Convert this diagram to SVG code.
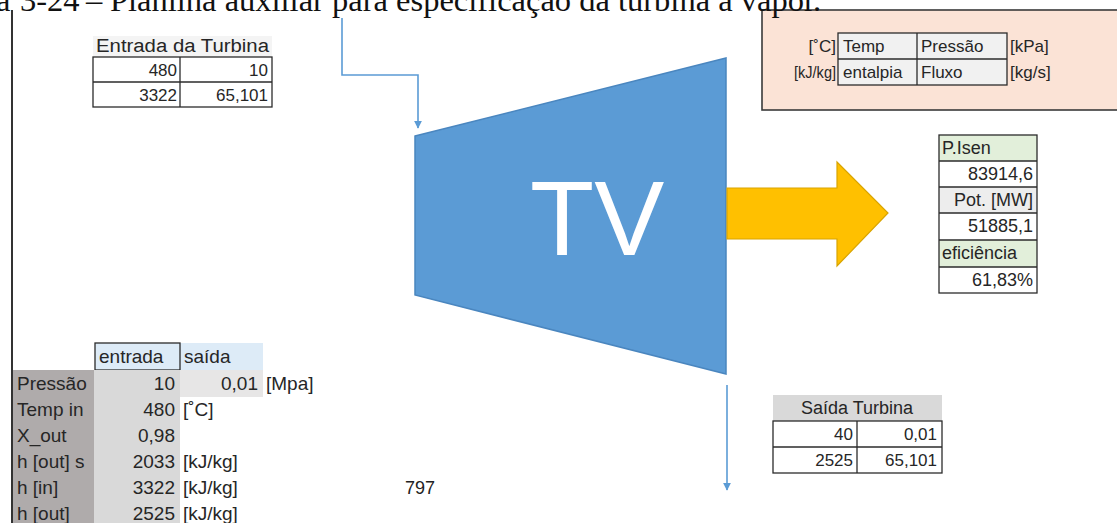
<svg xmlns="http://www.w3.org/2000/svg" width="1117" height="523" viewBox="0 0 1117 523">
<style>
.t{font-family:"Liberation Sans",Arial,sans-serif;font-size:17px;fill:#262626}
.b{font-size:19px}
.m{font-size:18px}
.r{text-anchor:end}
.c{text-anchor:middle}
.cell{stroke:#2b2b2b;stroke-width:1.3}
.flow{stroke:#5B9BD5;stroke-width:1.6;fill:none}
</style>
<defs>
<marker id="ah" viewBox="0 0 10 10" refX="9" refY="5" markerWidth="8" markerHeight="8" markerUnits="userSpaceOnUse" orient="auto">
<path d="M0,0 L10,5 L0,10 z" fill="#5B9BD5"/>
</marker>
</defs>
<rect width="1117" height="523" fill="#ffffff"/>
<line x1="12" y1="10" x2="12" y2="523" stroke="#333" stroke-width="2"/>

<g id="legend">
<rect x="762" y="10" width="360" height="100" fill="#FBE3D6" stroke="#3a3a3a" stroke-width="1.6"/>
<rect x="838" y="33" width="169" height="52" fill="#F1F1F1" class="cell"/>
<line x1="838" y1="59" x2="1007" y2="59" class="cell"/>
<line x1="917" y1="33" x2="917" y2="85" class="cell"/>
<text class="t r" x="836" y="52">[˚C]</text>
<text class="t" x="843" y="52">Temp</text>
<text class="t" x="921" y="52">Pressão</text>
<text class="t" x="1010" y="52">[kPa]</text>
<text class="t r" x="836" y="78" textLength="42" lengthAdjust="spacingAndGlyphs">[kJ/kg]</text>
<text class="t" x="843" y="78">entalpia</text>
<text class="t" x="921" y="78">Fluxo</text>
<text class="t" x="1010" y="78">[kg/s]</text>
</g>

<text y="11" font-family="'Liberation Serif','Times New Roman',serif" font-size="32.5" fill="#111"><tspan x="-4">a</tspan><tspan x="20">3-24</tspan><tspan x="86">–</tspan><tspan x="110">Planilha auxiliar para especificação da turbina a vapor.</tspan></text>

<g id="entrada-turbina">
<rect x="93" y="36" width="179" height="21" fill="#F4F4F4"/>
<text class="t m" x="96" y="52" textLength="173" lengthAdjust="spacingAndGlyphs">Entrada da Turbina</text>
<rect x="93" y="57" width="179" height="50" fill="#ffffff" class="cell"/>
<line x1="93" y1="82" x2="272" y2="82" class="cell"/>
<line x1="180" y1="57" x2="180" y2="107" class="cell"/>
<text class="t r" x="177" y="76">480</text>
<text class="t r" x="268" y="76">10</text>
<text class="t r" x="177" y="101">3322</text>
<text class="t r" x="268" y="101">65,101</text>
</g>

<g id="connectors">
<polyline class="flow" points="342,18 342,75 418,75 418,128" marker-end="url(#ah)"/>
<line class="flow" x1="727" y1="385" x2="727" y2="490" marker-end="url(#ah)"/>
</g>

<g id="turbina">
<polygon points="415,136 726,58 726,374 415,295" fill="#5B9BD5" stroke="#4A86BF" stroke-width="1.5"/>
<text x="530" y="255" font-family="'Liberation Sans',Arial,sans-serif" font-size="105" fill="#ffffff">TV</text>
</g>

<g id="potencia">
<polygon points="727,188 837,188 837,162 888,213 837,266 837,239 727,239" fill="#FFC000" stroke="#D9A400" stroke-width="1.2"/>
</g>

<g id="resultados">
<rect x="939" y="135" width="98" height="26" fill="#E2EFDA"/>
<rect x="939" y="187" width="98" height="26" fill="#EDEDED"/>
<rect x="939" y="240" width="98" height="27" fill="#E2EFDA"/>
<rect x="939" y="135" width="98" height="158" fill="none" class="cell" stroke-width="1.8"/>
<line x1="939" y1="161" x2="1037" y2="161" class="cell"/>
<line x1="939" y1="187" x2="1037" y2="187" class="cell"/>
<line x1="939" y1="213" x2="1037" y2="213" class="cell"/>
<line x1="939" y1="240" x2="1037" y2="240" class="cell"/>
<line x1="939" y1="267" x2="1037" y2="267" class="cell"/>
<text class="t m" x="942" y="154">P.Isen</text>
<text class="t m r" x="1033" y="180">83914,6</text>
<text class="t m r" x="1033" y="206">Pot. [MW]</text>
<text class="t m r" x="1033" y="232">51885,1</text>
<text class="t m" x="942" y="259">eficiência</text>
<text class="t m r" x="1033" y="286">61,83%</text>
</g>

<g id="dados">
<rect x="95" y="343" width="168" height="27" fill="#DDEBF7"/>
<rect x="95" y="343" width="85" height="27" fill="none" class="cell" stroke-width="1.6"/>
<rect x="13" y="370" width="81" height="153" fill="#AFABAB"/>
<rect x="94" y="370" width="86" height="153" fill="#D9D9D9"/>
<rect x="180" y="370" width="83" height="27" fill="#E7E6E6"/>
<text class="t b" x="99" y="363">entrada</text>
<text class="t b" x="184" y="363">saída</text>
<text class="t b" x="17" y="390">Pressão</text>
<text class="t b" x="17" y="416">Temp in</text>
<text class="t b" x="17" y="442">X_out</text>
<text class="t b" x="17" y="468">h [out] s</text>
<text class="t b" x="17" y="494">h [in]</text>
<text class="t b" x="17" y="520">h [out]</text>
<text class="t b r" x="175" y="390">10</text>
<text class="t b r" x="175" y="416">480</text>
<text class="t b r" x="175" y="442">0,98</text>
<text class="t b r" x="175" y="468">2033</text>
<text class="t b r" x="175" y="494">3322</text>
<text class="t b r" x="175" y="520">2525</text>
<text class="t b r" x="258" y="390">0,01</text>
<text class="t b" x="266" y="390">[Mpa]</text>
<text class="t b" x="183" y="416">[˚C]</text>
<text class="t b" x="183" y="468">[kJ/kg]</text>
<text class="t b" x="183" y="494">[kJ/kg]</text>
<text class="t b" x="183" y="520">[kJ/kg]</text>
</g>

<text x="405" y="494" font-family="'Liberation Sans',Arial,sans-serif" font-size="18" fill="#222">797</text>

<g id="saida-turbina">
<rect x="773" y="395" width="169" height="26" fill="#D9D9D9"/>
<text class="t m c" x="857" y="414">Saída Turbina</text>
<rect x="773" y="421" width="169" height="52" fill="#ffffff" class="cell"/>
<line x1="773" y1="447" x2="942" y2="447" class="cell"/>
<line x1="857" y1="421" x2="857" y2="473" class="cell"/>
<text class="t r" x="853" y="440">40</text>
<text class="t r" x="937" y="440">0,01</text>
<text class="t r" x="853" y="466">2525</text>
<text class="t r" x="937" y="466">65,101</text>
</g>
</svg>
